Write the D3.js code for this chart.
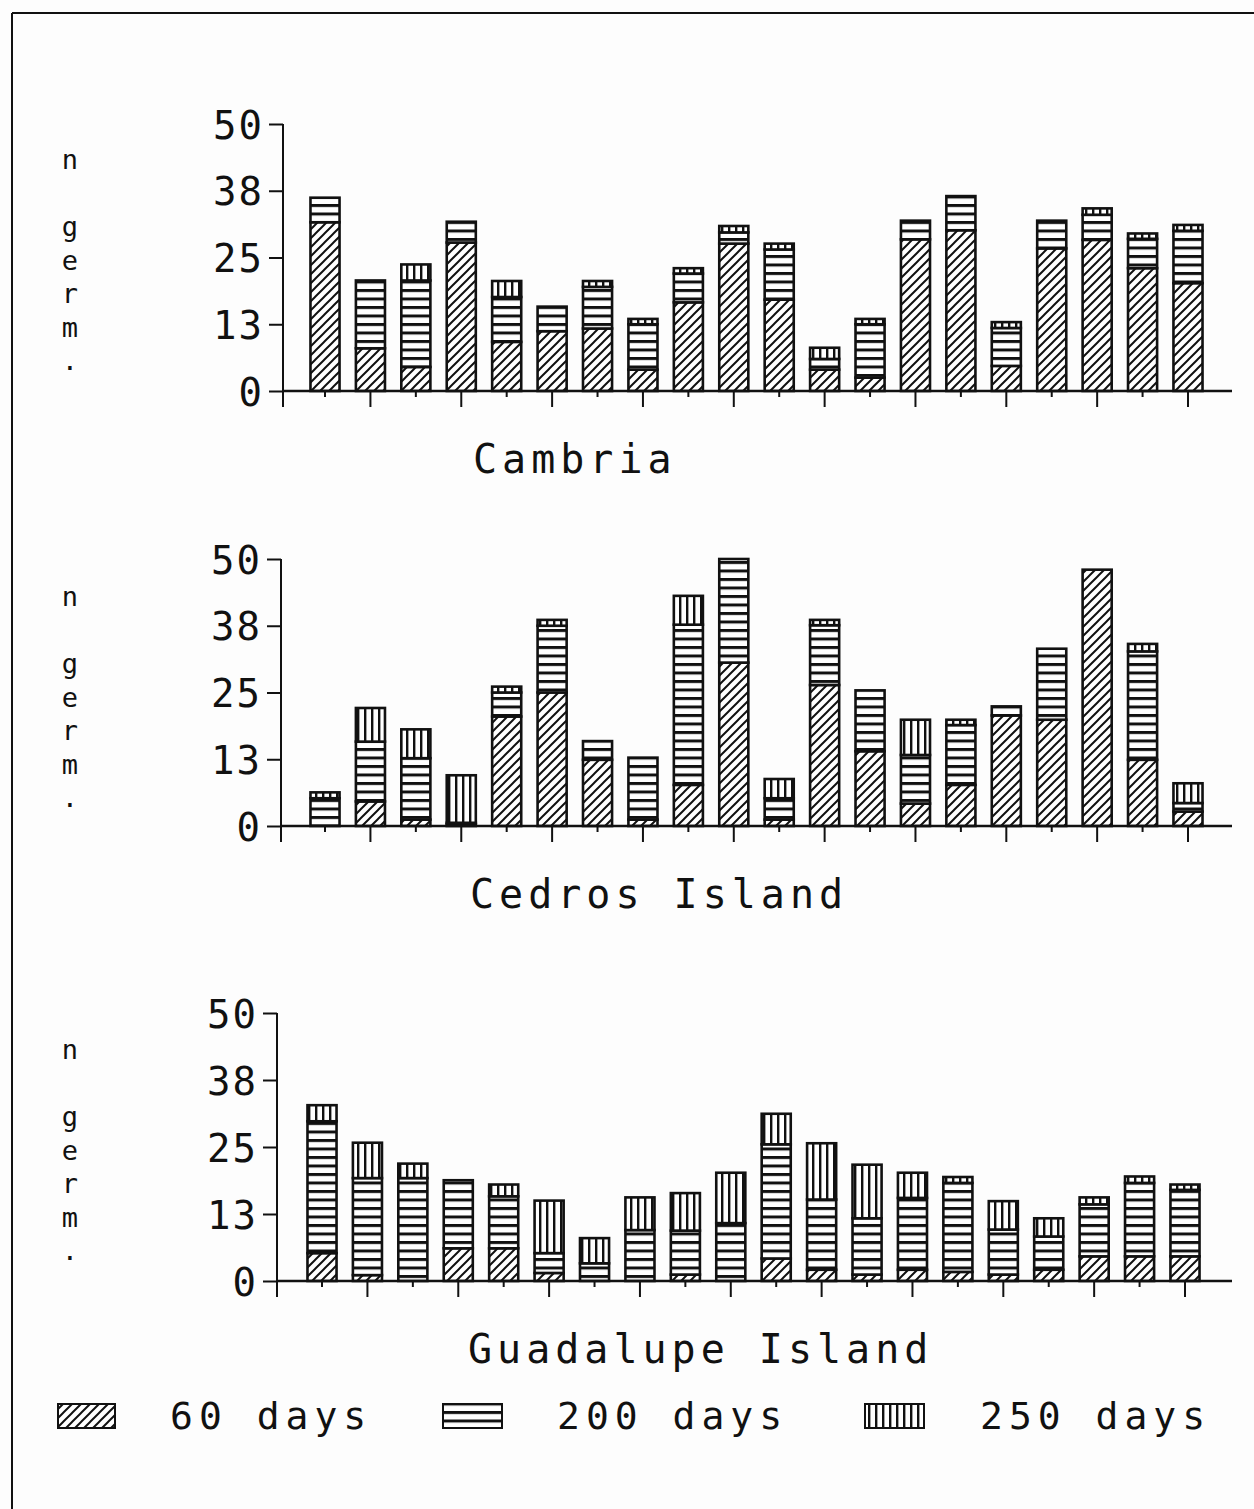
<!DOCTYPE html>
<html>
<head>
<meta charset="utf-8">
<script src="https://cdn.jsdelivr.net/npm/d3@7"></script>
<style>
  html, body { margin: 0; padding: 0; background: #fff; }
  svg { display: block; }
  text { font-family: "DejaVu Sans Mono", "Liberation Mono", monospace; fill: #111; }
</style>
</head>
<body>
<svg id="chart" width="1254" height="1509"></svg>
<script>
// ---- data (cumulative germination counts) ----
const sites = ["Cambria", "Cedros Island", "Guadalupe Island"];
const seriesNames = ["60 days", "200 days", "250 days"];
const yTickValues = [0, 12.5, 25, 37.5, 50];
const yTickLabels = ["0", "13", "25", "38", "50"];
const yLabelChars = ["n", " ", "g", "e", "r", "m", "."];
const bars = d3.range(1, 21);

const cambria60  = [31.6, 8.0, 4.5, 27.8, 9.2, 11.2, 11.7, 4.0, 16.6, 27.6, 17.1, 4.0, 2.5, 28.4, 30.1, 4.7, 26.7, 28.3, 23.0, 20.2];
const cambria200 = [36.2, 20.7, 20.7, 31.7, 17.6, 15.8, 19.5, 12.5, 22.0, 29.7, 26.5, 6.0, 12.5, 31.9, 36.5, 11.8, 31.9, 33.0, 28.5, 30.0];
const cambria250 = [36.2, 20.7, 23.7, 31.7, 20.6, 15.8, 20.6, 13.5, 23.0, 30.9, 27.6, 8.1, 13.5, 31.9, 36.5, 12.9, 31.9, 34.2, 29.5, 31.1];

const cedros60  = [0, 4.6, 1.2, 0.3, 20.5, 25.0, 12.4, 1.2, 7.7, 30.6, 1.2, 26.4, 14.0, 4.2, 7.7, 20.7, 19.9, 48.0, 12.4, 2.7];
const cedros200 = [5.2, 15.8, 12.7, 0.6, 25.0, 37.5, 15.9, 12.8, 37.7, 50.0, 5.2, 37.6, 25.4, 13.3, 18.9, 22.4, 33.2, 48.0, 32.7, 4.3];
const cedros250 = [6.3, 22.1, 18.1, 9.5, 26.1, 38.6, 15.9, 12.8, 43.1, 50.0, 8.8, 38.6, 25.4, 19.9, 19.9, 22.4, 33.2, 48.0, 34.1, 8.0];

const guad60  = [5.2, 1.1, 0, 6.1, 6.1, 1.5, 0, 0, 1.2, 0, 4.2, 2.1, 1.2, 2.1, 1.7, 1.2, 2.1, 4.6, 4.6, 4.6];
const guad200 = [29.8, 19.2, 19.2, 18.8, 15.8, 5.2, 3.3, 9.5, 9.4, 10.8, 25.5, 15.2, 11.7, 15.5, 18.3, 9.6, 8.3, 14.3, 18.3, 17.0];
const guad250 = [32.8, 25.8, 21.9, 18.8, 18.0, 15.0, 8.0, 15.6, 16.4, 20.2, 31.2, 25.7, 21.7, 20.2, 19.4, 14.9, 11.7, 15.6, 19.5, 18.0];

const siteData = [
  [cambria60, cambria200, cambria250],
  [cedros60, cedros200, cedros250],
  [guad60, guad200, guad250]
];

// ---- layout ----
const ink = "#111";
const panels = [
  { top: 124, base: 391, axisX: 283, shift: 0, titleX: 473, titleY: 473, labelY: 160 },
  { top: 559, base: 826, axisX: 281, shift: 0, titleX: 470, titleY: 908, labelY: 597 },
  { top: 1013, base: 1281, axisX: 277, shift: -3, titleX: 468, titleY: 1363, labelY: 1050 }
];
const xEnd = 1232;
const patternIds = ["pDiag", "pHoriz", "pVert"];

const svg = d3.select("#chart");
svg.append("rect").attr("width", 1254).attr("height", 1509).attr("fill", "#fdfdfd");

// patterns
const defs = svg.append("defs");
const pd = defs.append("pattern").attr("id", "pDiag").attr("patternUnits", "userSpaceOnUse")
  .attr("width", 9).attr("height", 9);
pd.append("rect").attr("width", 9).attr("height", 9).attr("fill", "#fff");
pd.append("path").attr("d", "M-2,2 L2,-2 M0,9 L9,0 M7,11 L11,7")
  .attr("stroke", ink).attr("stroke-width", 2);
const ph = defs.append("pattern").attr("id", "pHoriz").attr("patternUnits", "userSpaceOnUse")
  .attr("width", 10).attr("height", 8.5);
ph.append("rect").attr("width", 10).attr("height", 8.5).attr("fill", "#fff");
ph.append("rect").attr("y", 0).attr("width", 10).attr("height", 3).attr("fill", ink);
const pv = defs.append("pattern").attr("id", "pVert").attr("patternUnits", "userSpaceOnUse")
  .attr("width", 7).attr("height", 10);
pv.append("rect").attr("width", 7).attr("height", 10).attr("fill", "#fff");
pv.append("rect").attr("x", 0).attr("width", 2.4).attr("height", 10).attr("fill", ink);

// outer frame
svg.append("line").attr("x1", 12).attr("y1", 13).attr("x2", 1254).attr("y2", 13)
  .attr("stroke", ink).attr("stroke-width", 2);
svg.append("line").attr("x1", 12).attr("y1", 13).attr("x2", 12).attr("y2", 1509)
  .attr("stroke", ink).attr("stroke-width", 2);

panels.forEach((p, pi) => {
  const g = svg.append("g");
  const y = d3.scaleLinear().domain([0, 50]).range([p.base, p.top]);
  const x = d3.scaleBand().domain(bars)
    .range([302.3 + p.shift, 1210.7 + p.shift]).paddingInner(0.36).paddingOuter(0.18);

  const [s60, s200, s250] = siteData[pi];
  const segs = [];
  bars.forEach((b, i) => {
    const cum = [0, s60[i], s200[i], s250[i]];
    for (let k = 0; k < 3; k++) {
      if (cum[k + 1] - cum[k] > 0.05) segs.push({ bar: b, k, y0: cum[k], y1: cum[k + 1] });
    }
  });

  g.selectAll("rect.seg").data(segs).join("rect")
    .attr("class", "seg")
    .attr("x", d => x(d.bar))
    .attr("width", x.bandwidth())
    .attr("y", d => y(d.y1))
    .attr("height", d => y(d.y0) - y(d.y1))
    .attr("fill", d => `url(#${patternIds[d.k]})`)
    .attr("stroke", ink).attr("stroke-width", 2.6);

  // y axis
  const ya = g.append("g").attr("transform", `translate(${p.axisX},0)`)
    .call(d3.axisLeft(y).tickValues(yTickValues)
      .tickFormat((d, i) => yTickLabels[i]).tickSize(14).tickSizeOuter(0).tickPadding(5));
  ya.select(".domain").remove();
  ya.selectAll("line").attr("stroke", ink).attr("stroke-width", 2);
  ya.selectAll("text").attr("font-size", 39).attr("letter-spacing", 2)
    .attr("dy", "0.36em").attr("font-family", "DejaVu Sans Mono").attr("fill", ink);
  g.append("line").attr("x1", p.axisX).attr("x2", p.axisX)
    .attr("y1", p.top).attr("y2", p.base + 16).attr("stroke", ink).attr("stroke-width", 2);

  // x axis
  const xa = g.append("g").attr("transform", `translate(0,${p.base})`)
    .call(d3.axisBottom(x).tickFormat("").tickSizeOuter(0).tickSize(16));
  xa.select(".domain").remove();
  xa.selectAll(".tick line").attr("stroke", ink).attr("stroke-width", 2)
    .attr("y2", (d, i) => (i % 2 === 1 ? 16 : 6));
  g.append("line").attr("x1", p.axisX).attr("x2", xEnd)
    .attr("y1", p.base).attr("y2", p.base).attr("stroke", ink).attr("stroke-width", 2.5);

  // title
  g.append("text").attr("x", p.titleX).attr("y", p.titleY)
    .attr("font-size", 40).attr("letter-spacing", 5)
    .text(sites[pi]);

  // vertical y label
  g.selectAll("text.ylab").data(yLabelChars).join("text")
    .attr("class", "ylab")
    .attr("x", 70).attr("y", (d, i) => p.labelY + i * 33.5)
    .attr("text-anchor", "middle").attr("dy", "0.35em")
    .attr("font-size", 27)
    .text(d => d);
});

// legend
const legendSw = [
  { x: 58, w: 57 }, { x: 443, w: 59 }, { x: 865, w: 59 }
];
const legendTx = [170, 557, 980];
const lg = svg.append("g");
seriesNames.forEach((name, i) => {
  lg.append("rect").attr("x", legendSw[i].x).attr("y", 1404)
    .attr("width", legendSw[i].w).attr("height", 24)
    .attr("fill", `url(#${patternIds[i]})`).attr("stroke", ink).attr("stroke-width", 2);
  lg.append("text").attr("x", legendTx[i]).attr("y", 1429)
    .attr("font-size", 38).attr("letter-spacing", 6)
    .text(name);
});
</script>
</body>
</html>
